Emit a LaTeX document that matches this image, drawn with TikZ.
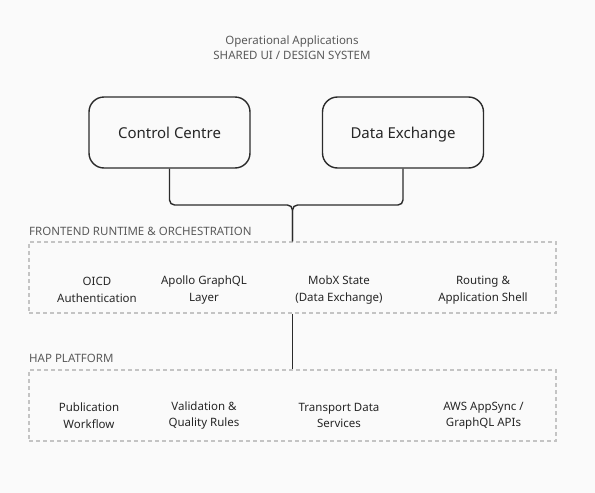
\documentclass[tikz,border=0pt]{standalone}
\usepackage{fontspec}
\setmainfont{Noto Sans}
\usetikzlibrary{positioning}
\definecolor{bgcol}{HTML}{FAFAFA}
\definecolor{linecol}{HTML}{2B2B2B}
\definecolor{dashcol}{HTML}{C4C4C4}
\definecolor{labelcol}{HTML}{5A5A5A}
\definecolor{textcol}{HTML}{262626}
\begin{document}
\begin{tikzpicture}[x=1pt,y=-1pt,
    appbox/.style={draw=linecol, line width=1.4pt, rounded corners=15pt,
        minimum width=161pt, minimum height=71pt, text=textcol,
        text height=1.1em, text depth=0pt,
        font=\fontsize{15}{17}\selectfont},
    layerbox/.style={draw=dashcol, line width=1.1pt, dash pattern=on 4pt off 3pt,
        minimum width=527pt, minimum height=71pt},
    layerlabel/.style={anchor=base west, inner sep=0pt, text=labelcol,
        font=\fontsize{11.5}{13}\selectfont},
    item/.style={align=center, text=textcol, font=\fontsize{11.5}{16.5}\selectfont},
    wire/.style={draw=linecol, line width=1.4pt}]
    \useasboundingbox[fill=bgcol] (0,0) rectangle (595,493);

    % heading
    \node[text=labelcol, align=center, font=\fontsize{11.5}{15.5}\selectfont] (title) at(292,47.5)
        {Operational Applications\\SHARED UI / DESIGN SYSTEM};

    % applications
    \node[appbox] (cc) at(169.5,132.5) {Control Centre};
    \node[appbox] (dx) at(403,132.5) {Data Exchange};

    % frontend layer
    \node[layerbox] (fe) at(292.5,277.5) {};
    \node[layerlabel] (felabel) at(29,235) {FRONTEND RUNTIME \& ORCHESTRATION};
    \node[item] (oicd) at(97,290) {OICD\\Authentication};
    \node[item] (apollo) at(204,290) {Apollo GraphQL\\Layer};
    \node[item] (mobx) at(339,290) {MobX State\\(Data Exchange)};
    \node[item] (routing) at(483,290) {Routing \&\\Application Shell};

    % platform layer
    \node[layerbox] (hap) at(292.5,405.5) {};
    \node[layerlabel] (haplabel) at(29,362) {HAP PLATFORM};
    \node[item] (pub) at(89,415.5) {Publication\\Workflow};
    \node[item] (valid) at(204,415.5) {Validation \&\\Quality Rules};
    \node[item] (transport) at(339,415.5) {Transport Data\\Services};
    \node[item] (aws) at(483.5,415.5) {AWS AppSync /\\GraphQL APIs};

    % connectors
    \coordinate (join) at(292.5,205);
    \draw[wire, rounded corners=5pt] (cc.south) |- (join) -- (fe.north);
    \draw[wire, rounded corners=5pt] (dx.south) |- (join) -- (fe.north);
    \draw[wire] (fe.south) -- (hap.north);
\end{tikzpicture}
\end{document}
